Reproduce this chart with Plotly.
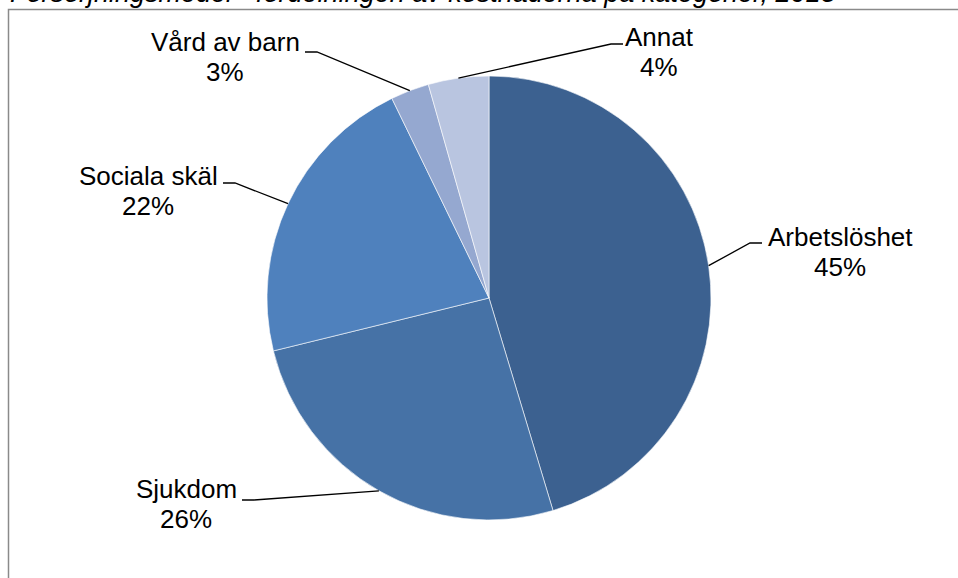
import math
import plotly.graph_objects as go

# ---- data ----
categories = ["Arbetslöshet", "Sjukdom", "Sociala skäl", "Vård av barn", "Annat"]
values = [45.3, 25.8, 21.6, 2.8, 4.4]
colors = ["#3C6190", "#4672A6", "#4F81BD", "#95A8D0", "#B9C5E0"]
title_text = "Försörjningsmedel - fördelningen av kostnaderna på kategorier, 2013"

# ---- layout constants (pixels) ----
W, H = 958, 578
pie_left, pie_right, pie_top, pie_bottom = 267, 711, 76, 520
cx = (pie_left + pie_right) / 2
cy = (pie_top + pie_bottom) / 2
R = min(pie_right - pie_left, pie_bottom - pie_top) / 2

# label placement: (name centre x, name cap-centre y, leader start x, leader start y, horizontal dir)
label_pos = {
    "Vård av barn": (225, 42, 305, 52, +1),
    "Annat": (659, 37, 623, 44, -1),
    "Sociala skäl": (148, 176, 223, 183, +1),
    "Arbetslöshet": (840, 237, 762, 243, -1),
    "Sjukdom": (186, 489, 242, 500, +1),
}
line_gap = 30
font_family = "Liberation Sans, Arial, sans-serif"
font_size = 26
title_size = 27


def px(x):
    return x / W


def py(y):
    return 1 - y / H


fig = go.Figure(
    go.Pie(
        labels=categories,
        values=values,
        sort=False,
        direction="clockwise",
        rotation=0,
        marker=dict(colors=colors, line=dict(color="white", width=0.6)),
        textinfo="none",
        hoverinfo="label+percent",
        showlegend=False,
        domain=dict(x=[px(pie_left), px(pie_right)], y=[py(pie_bottom), py(pie_top)]),
    )
)

total = sum(values)
annotations = []
shapes = []
cum = 0.0
for cat, v in zip(categories, values):
    mid = (cum + v / 2) / total * 2 * math.pi
    cum += v
    ex = cx + R * math.sin(mid)
    ey = cy - R * math.cos(mid)
    nx, ny, sx, sy, d = label_pos[cat]
    pct = round(v / total * 100)
    annotations.append(dict(x=px(nx), y=py(ny), xref="paper", yref="paper", text=cat,
                            showarrow=False, xanchor="center", yanchor="middle",
                            font=dict(family=font_family, size=font_size, color="black")))
    annotations.append(dict(x=px(nx), y=py(ny + line_gap), xref="paper", yref="paper",
                            text=f"{pct}%", showarrow=False, xanchor="center", yanchor="middle",
                            font=dict(family=font_family, size=font_size, color="black")))
    hx = sx + d * 12
    shapes.append(dict(type="path", xref="paper", yref="paper",
                       path=f"M {px(sx)} {py(sy)} L {px(hx)} {py(sy)} L {px(ex)} {py(ey)}",
                       line=dict(color="black", width=1.3)))

# frame
shapes.append(dict(type="rect", xref="paper", yref="paper", x0=px(8.5), x1=1.05,
                   y0=-0.05, y1=py(9.5), line=dict(color="#8a8a8a", width=1.5),
                   fillcolor="rgba(0,0,0,0)", layer="below"))

# cut-off title (the reference shows it clipped at the top edge)
annotations.append(dict(x=px(8), y=py(10), xref="paper", yref="paper", text=f"<i>{title_text}</i>",
                        showarrow=False, xanchor="left", yanchor="bottom",
                        font=dict(family=font_family, size=title_size, color="black")))

fig.update_layout(
    width=W, height=H,
    margin=dict(l=0, r=0, t=0, b=0),
    paper_bgcolor="white", plot_bgcolor="white",
    annotations=annotations, shapes=shapes,
)

fig.write_html("out.html")
